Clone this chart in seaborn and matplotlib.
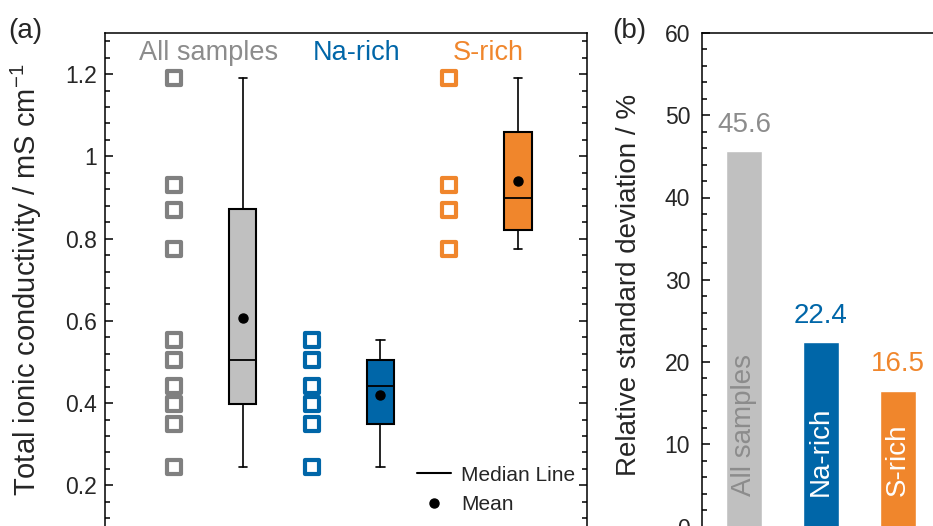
import numpy as np
import pandas as pd
import seaborn as sns
import matplotlib.pyplot as plt
from matplotlib.lines import Line2D
from matplotlib.ticker import MultipleLocator, FuncFormatter

# data
groups = ['All samples', 'Na-rich', 'S-rich']
text_colors = ['#8c8c8c', '#0066a8', '#f0862c']
square_colors = ['#808080', '#0066a8', '#f0862c']
fill_colors = ['#c0c0c0', '#0066a8', '#f0862c']

na_rich = [0.553, 0.504, 0.442, 0.397, 0.349, 0.244]
s_rich = [1.19, 0.93, 0.87, 0.775]
all_samples = na_rich + s_rich

# box statistics as drawn in panel (a)
box_min = [0.244, 0.244, 0.775]
box_q1 = [0.397, 0.349, 0.821]
box_med = [0.504, 0.442, 0.899]
box_q3 = [0.871, 0.504, 1.059]
box_max = [1.19, 0.553, 1.19]
box_mean = [0.607, 0.419, 0.941]

# relative standard deviation, panel (b)
rsd = [45.6, 22.4, 16.5]

sns.set_style('ticks')
plt.rcParams['font.family'] = ['Liberation Sans', 'DejaVu Sans']
plt.rcParams['mathtext.fontset'] = 'custom'
plt.rcParams['mathtext.rm'] = 'Liberation Sans'
plt.rcParams['axes.edgecolor'] = 'black'
plt.rcParams['axes.linewidth'] = 1.1

fig = plt.figure(figsize=(9.33, 5.26), dpi=100)
ax1 = fig.add_axes([105 / 933, -0.5 / 526, 482 / 933, 493.5 / 526])
ax2 = fig.add_axes([702 / 933, -0.5 / 526, 238 / 933, 493.5 / 526])

# ---- panel (a): raw samples + boxes
df = pd.DataFrame({
    'group': ['All samples'] * len(all_samples) + ['Na-rich'] * len(na_rich) + ['S-rich'] * len(s_rich),
    'value': all_samples + na_rich + s_rich,
})
df['x'] = df['group'].map({g: i + 0.5 for i, g in enumerate(groups)})
for g, col in zip(groups, square_colors):
    sub = df[df['group'] == g]
    sns.scatterplot(x=sub['x'], y=sub['value'], marker='s', s=100, color=col,
                    facecolor='white', edgecolor=col, linewidth=3.0, ax=ax1, zorder=3)

stats = []
for i, g in enumerate(groups):
    stats.append(dict(label=g, whislo=box_min[i], q1=box_q1[i], med=box_med[i],
                      q3=box_q3[i], whishi=box_max[i], mean=box_mean[i]))
bp = ax1.bxp(stats, positions=[1, 2, 3], widths=0.2, capwidths=0.06,
             patch_artist=True, showmeans=True, showfliers=False,
             boxprops=dict(linewidth=1.5, edgecolor='black'),
             medianprops=dict(color='black', linewidth=1.3),
             whiskerprops=dict(color='black', linewidth=1.2),
             capprops=dict(color='black', linewidth=1.2),
             meanprops=dict(marker='o', markerfacecolor='black', markeredgecolor='black', markersize=6.5))
for patch, col in zip(bp['boxes'], fill_colors):
    patch.set_facecolor(col)

label_x = [0.75, 1.83, 2.78]
for x, g, col in zip(label_x, groups, text_colors):
    ax1.text(x, 1.234, g, ha='center', va='baseline', color=col, fontsize=19.5)

ax1.set_xlim(0, 3.5)
ax1.set_ylim(0.1, 1.3)
ax1.set_xticks([])
ax1.set_xlabel('')
ax1.set_ylabel('')
ax1.yaxis.set_major_locator(MultipleLocator(0.2))
ax1.yaxis.set_minor_locator(MultipleLocator(0.04))
ax1.yaxis.set_major_formatter(FuncFormatter(lambda v, p: f'{v:g}'))
ax1.tick_params(axis='y', which='both', direction='in', left=True, right=True,
                width=1.1, labelsize=16.5, color='black')
ax1.tick_params(axis='y', which='major', length=5.8, pad=6)
ax1.tick_params(axis='y', which='minor', length=3.3)

handles = [Line2D([], [], color='black', lw=1.5),
           Line2D([], [], ls='', marker='o', color='black', markersize=6.5)]
ax1.legend(handles, ['Median Line', 'Mean'], loc='lower right', bbox_to_anchor=(0.975, 0.025),
           frameon=False, fontsize=15, handlelength=1.65, handletextpad=0.45,
           labelspacing=0.5, borderpad=0, borderaxespad=0)

# ---- panel (b): bars
sns.barplot(x=groups, y=rsd, hue=groups, palette=fill_colors, legend=False,
            width=0.465, saturation=1, ax=ax2)
inner_colors = ['#8c8c8c', 'white', 'white']
for i, (g, v) in enumerate(zip(groups, rsd)):
    ax2.text(i, 3.75, g, rotation=90, ha='center', va='bottom', color=inner_colors[i], fontsize=20)
    ax2.annotate(f'{v:.1f}', (i, v), xytext=(0, 14), textcoords='offset points',
                 ha='center', va='baseline', color=text_colors[i], fontsize=20)

ax2.set_xlim(-0.55, 2.55)
ax2.set_ylim(0, 60)
ax2.set_xticks([])
ax2.set_xlabel('')
ax2.set_ylabel('')
ax2.yaxis.set_major_locator(MultipleLocator(10))
ax2.yaxis.set_minor_locator(MultipleLocator(2))
ax2.tick_params(axis='y', which='both', direction='in', left=True, right=False,
                width=1.1, labelsize=16.5, color='black')
ax2.tick_params(axis='y', which='major', length=5.8, pad=8.5)
ax2.tick_params(axis='y', which='minor', length=3.3)

fig.text(26 / 933, 1 - 280 / 526, 'Total ionic conductivity / mS cm$^{-1}$',
         rotation=90, ha='center', va='center', fontsize=21)
fig.text(629 / 933, 1 - 285 / 526, 'Relative standard deviation / %',
         rotation=90, ha='center', va='center', fontsize=20)
fig.text(8 / 933, 1 - 31 / 526, '(a)', ha='left', va='center', fontsize=20)
fig.text(612 / 933, 1 - 31 / 526, '(b)', ha='left', va='center', fontsize=20)

fig.savefig('out.png', dpi=100)
